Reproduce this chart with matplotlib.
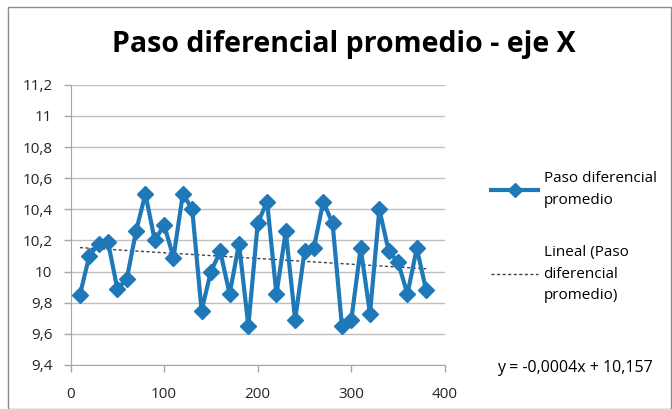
import matplotlib
matplotlib.use("Agg")
import matplotlib.pyplot as plt
import numpy as np
from matplotlib.patches import Rectangle
from matplotlib.lines import Line2D

plt.rcParams['font.family'] = ['Open Sans', 'DejaVu Sans']

# data
x_vals = list(range(10, 390, 10))
paso = [9.85, 10.10, 10.18, 10.19, 9.89, 9.95, 10.26, 10.50, 10.20, 10.30,
        10.09, 10.50, 10.40, 9.75, 10.00, 10.13, 9.855, 10.18, 9.65, 10.31,
        10.45, 9.855, 10.26, 9.69, 10.13, 10.15, 10.45, 10.31, 9.65, 9.69,
        10.15, 9.73, 10.40, 10.13, 10.06, 9.855, 10.15, 9.88]
y_ticks = [9.4, 9.6, 9.8, 10.0, 10.2, 10.4, 10.6, 10.8, 11.0, 11.2]
y_labels = ['9,4', '9,6', '9,8', '10', '10,2', '10,4', '10,6', '10,8', '11', '11,2']
x_ticks = [0, 100, 200, 300, 400]

title = "Paso diferencial promedio - eje X"
serie_label = "Paso diferencial\npromedio"
trend_label = "Lineal (Paso\ndiferencial\npromedio)"
equation = "y = -0,0004x + 10,157"

blue = '#1f78b8'
grey = '#a6a6a6'

fig = plt.figure(figsize=(6.72, 4.09), dpi=100)
ax = fig.add_axes([0.105, 0.1076, 0.557, 0.685])

# linear trend
coef = np.polyfit(x_vals, paso, 1)
xt = np.array([x_vals[0], x_vals[-1]])
ax.plot(xt, np.polyval(coef, xt), color='#404040', lw=1, linestyle=(0, (2.2, 1.8)), zorder=2)

ax.plot(x_vals, paso, color=blue, lw=3, marker='D', markersize=8.5, zorder=3)

ax.set_xlim(0, 400)
ax.set_ylim(9.4, 11.2)
ax.set_xticks(x_ticks)
ax.set_yticks(y_ticks)
ax.set_yticklabels(y_labels)
ax.tick_params(axis='both', labelsize=11, colors=grey, labelcolor='#262626', length=5, width=1)
ax.tick_params(axis='x', pad=11)
ax.tick_params(axis='y', pad=8)
ax.grid(axis='y', color='#bfbfbf', lw=1)
ax.set_axisbelow(True)
for s in ['top', 'right']:
    ax.spines[s].set_visible(False)
for s in ['left', 'bottom']:
    ax.spines[s].set_color(grey)

fig.text(0.512, 0.89, title, ha='center', va='center', fontsize=20.5, fontweight='bold')

handles = [Line2D([], [], color=blue, lw=3, marker='D', markersize=7),
           Line2D([], [], color='#404040', lw=1, linestyle=(0, (2.2, 1.8)))]
leg = fig.legend(handles, [serie_label, trend_label], loc='upper left',
                 bbox_to_anchor=(0.71, 0.615), frameon=False, fontsize=11,
                 handlelength=3.1, handletextpad=0.35, labelspacing=2.45)
for t in leg.get_texts():
    t.set_linespacing(1.6)

fig.text(0.74, 0.1, equation, fontsize=11.5, ha='left', va='center')

fig.patches.append(Rectangle((0.012, 0.0), 0.987, 0.983, transform=fig.transFigure,
                             fill=False, edgecolor='#8c8c8c', lw=1))

fig.savefig('out.png', dpi=100)
